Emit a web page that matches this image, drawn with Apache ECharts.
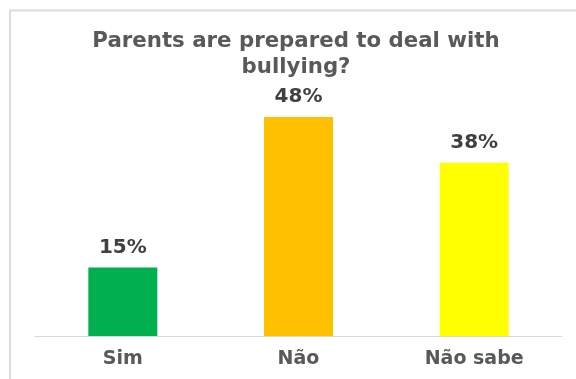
<!DOCTYPE html>
<html>
<head>
<meta charset="utf-8">
<script src="https://cdn.jsdelivr.net/npm/echarts@6/dist/echarts.min.js"></script>
<style>
html,body{margin:0;padding:0;background:#fff;}
#chart{width:576px;height:379px;}
</style>
</head>
<body>
<div id="chart"></div>
<script>
const titleText = 'Parents are prepared to deal with\nbullying?';
const categories = ['Sim', 'Não', 'Não sabe'];
const values = [15, 48, 38];
const barColors = ['#00B050', '#FFC000', '#FFFF00'];

const chart = echarts.init(document.getElementById('chart'), null, {renderer: 'canvas'});
chart.setOption({
  backgroundColor: '#ffffff',
  animation: false,
  title: {
    text: titleText,
    left: 296,
    top: 28,
    padding: 0,
    textAlign: 'center',
    textStyle: {
      fontFamily: 'DejaVu Sans',
      fontWeight: 'bold',
      fontSize: 21.3,
      lineHeight: 26,
      color: '#595959'
    }
  },
  graphic: [{
    type: 'rect',
    shape: {x: 10, y: 10.5, width: 700, height: 500},
    style: {fill: 'none', stroke: '#dcdcdc', lineWidth: 2},
    silent: true
  }],
  grid: {left: 35, right: 14, top: 62.4, bottom: 43},
  xAxis: {
    type: 'category',
    data: categories,
    axisLine: {lineStyle: {color: '#d9d9d9', width: 1}},
    axisTick: {show: false},
    axisLabel: {
      margin: 14,
      fontFamily: 'DejaVu Sans',
      fontWeight: 'bold',
      fontSize: 19,
      color: '#595959'
    }
  },
  yAxis: {
    type: 'value',
    min: 0,
    max: 60,
    show: false,
    splitLine: {show: false}
  },
  series: [{
    type: 'bar',
    barWidth: 69,
    data: values.map((v, i) => ({value: v, itemStyle: {color: barColors[i]}})),
    label: {
      show: true,
      position: 'top',
      distance: 10,
      formatter: p => p.value + '%',
      fontFamily: 'DejaVu Sans',
      fontWeight: 'bold',
      fontSize: 20,
      color: '#404040'
    }
  }]
});
</script>
</body>
</html>
